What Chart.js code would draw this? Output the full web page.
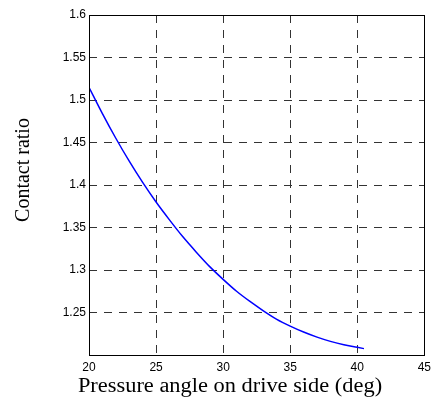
<!DOCTYPE html>
<html>
<head>
<meta charset="utf-8">
<script src="https://cdn.jsdelivr.net/npm/chart.js@4"></script>
<style>
html,body{margin:0;padding:0;background:#fff;}
#wrap{width:436px;height:400px;position:relative;}
</style>
</head>
<body>
<div id="wrap"><canvas id="c" width="436" height="400"></canvas></div>
<script>
const pressureAngle = [20, 21, 22, 23, 24, 25, 26, 27, 28, 29, 30, 31, 32, 33, 34, 35, 36, 37, 38, 39, 40, 40.5];
const contactRatio = [1.515, 1.484, 1.455, 1.428, 1.403, 1.380, 1.359, 1.339, 1.321, 1.304, 1.289, 1.275, 1.263, 1.252, 1.242, 1.234, 1.227, 1.221, 1.216, 1.212, 1.209, 1.2075];
const xTickValues = [20, 25, 30, 35, 40, 45];
const yTickValues = [1.2, 1.25, 1.3, 1.35, 1.4, 1.45, 1.5, 1.55, 1.6];
const yTickLabels = ['', '1.25', '1.3', '1.35', '1.4', '1.45', '1.5', '1.55', '1.6'];
const xTitle = 'Pressure angle on drive side (deg)';
const yTitle = 'Contact ratio';

const points = pressureAngle.map((x, i) => ({x: x, y: contactRatio[i]}));

const framePlugin = {
  id: 'frame',
  afterDraw(chart) {
    const ctx = chart.ctx;
    const a = chart.chartArea;
    ctx.save();
    ctx.strokeStyle = '#000';
    ctx.lineWidth = 1;
    ctx.setLineDash([]);
    ctx.strokeRect(Math.round(a.left) + 0.5, Math.round(a.top) + 0.5, Math.round(a.right - a.left), Math.round(a.bottom - a.top));
    ctx.fillStyle = '#000';
    ctx.font = '20px "Liberation Serif", "Times New Roman", serif';
    ctx.textAlign = 'center';
    ctx.textBaseline = 'middle';
    ctx.save();
    ctx.translate(230, 387);
    ctx.scale(1.12, 1);
    ctx.fillText(xTitle, 0, 0);
    ctx.restore();
    ctx.translate(24, 170);
    ctx.rotate(-Math.PI / 2);
    ctx.fillText(yTitle, 0, 0);
    ctx.restore();
  }
};

new Chart(document.getElementById('c'), {
  type: 'line',
  data: {
    datasets: [{
      data: points,
      borderColor: '#0000ff',
      borderWidth: 1.5,
      pointRadius: 0,
      fill: false,
      cubicInterpolationMode: 'monotone'
    }]
  },
  options: {
    responsive: false,
    animation: false,
    devicePixelRatio: 1,
    layout: {padding: {top: 15, right: 6, left: 0, bottom: 0}},
    plugins: {legend: {display: false}, tooltip: {enabled: false}},
    scales: {
      x: {
        type: 'linear',
        min: 20, max: 45,
        afterBuildTicks(scale) { scale.ticks = xTickValues.map(v => ({value: v})); },
        afterFit(scale) { scale.height = 45; },
        grid: {color: '#333', lineWidth: 1, drawTicks: false},
        border: {display: false, dash: [8, 7]},
        ticks: {
          padding: 5,
          color: '#000',
          font: {family: '"Liberation Sans", Arial, sans-serif', size: 12},
          maxRotation: 0,
          callback: v => String(v)
        }
      },
      y: {
        type: 'linear',
        min: 1.2, max: 1.6,
        afterBuildTicks(scale) { scale.ticks = yTickValues.map(v => ({value: v})); },
        afterFit(scale) { scale.width = 89; },
        grid: {color: '#333', lineWidth: 1, drawTicks: false},
        border: {display: false, dash: [8, 7]},
        ticks: {
          padding: 3,
          color: '#000',
          font: {family: '"Liberation Sans", Arial, sans-serif', size: 12},
          callback: (v, i) => yTickLabels[yTickValues.indexOf(Math.round(v * 100) / 100)] ?? ''
        }
      }
    }
  },
  plugins: [framePlugin]
});
</script>
</body>
</html>
